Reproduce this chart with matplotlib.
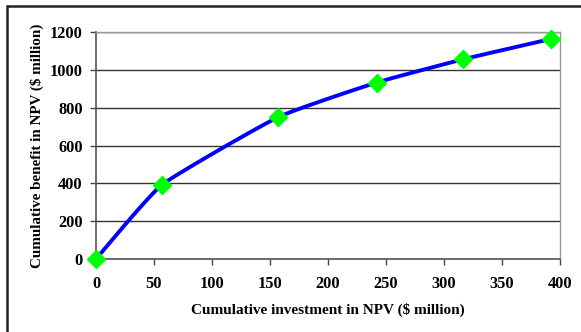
import numpy as np
import matplotlib
matplotlib.use("Agg")
import matplotlib.pyplot as plt
from matplotlib.patches import Rectangle

investment = [0, 57, 157, 242, 316, 392]
benefit = [0, 393, 750, 933, 1055, 1163]
x_ticks = [0, 50, 100, 150, 200, 250, 300, 350, 400]
y_ticks = [0, 200, 400, 600, 800, 1000, 1200]
x_label = "Cumulative investment in NPV ($ million)"
y_label = "Cumulative benefit in NPV ($ million)"


def smooth(xs, ys, k=1 / 14, n=40):
    xs = np.asarray(xs, float)
    ys = np.asarray(ys, float)
    px = np.concatenate([[xs[0]], xs, [xs[-1]]])
    py = np.concatenate([[ys[0]], ys, [ys[-1]]])
    outx, outy = [], []
    for i in range(1, len(px) - 2):
        t = np.linspace(0, 1, n)
        b1x = px[i] + (px[i + 1] - px[i - 1]) * k
        b1y = py[i] + (py[i + 1] - py[i - 1]) * k
        b2x = px[i + 1] - (px[i + 2] - px[i]) * k
        b2y = py[i + 1] - (py[i + 2] - py[i]) * k
        bx = ((1 - t) ** 3 * px[i] + 3 * (1 - t) ** 2 * t * b1x
              + 3 * (1 - t) * t ** 2 * b2x + t ** 3 * px[i + 1])
        by = ((1 - t) ** 3 * py[i] + 3 * (1 - t) ** 2 * t * b1y
              + 3 * (1 - t) * t ** 2 * b2y + t ** 3 * py[i + 1])
        outx.extend(bx)
        outy.extend(by)
    return np.array(outx), np.array(outy)


plt.rcParams['font.family'] = ['Liberation Serif', 'DejaVu Serif']
plt.rcParams['font.weight'] = 'bold'

fig = plt.figure(figsize=(5.81, 3.32), dpi=100)
fig.patches.append(Rectangle((7 / 581, -0.1), (581 - 6.5) / 581, 1 - 6 / 332 + 0.1,
                             transform=fig.transFigure, fill=False,
                             edgecolor='#222222', linewidth=1.8))

ax = fig.add_axes([96 / 581, 1 - 259 / 332, 464 / 581, 227 / 332])
ax.set_xlim(0, 400)
ax.set_ylim(0, 1200)
ax.set_xticks(x_ticks)
ax.set_yticks(y_ticks)
ax.grid(axis='y', color='#333333', linewidth=1.0)
ax.set_axisbelow(True)
for s in ['top', 'right']:
    ax.spines[s].set_color('#999999')
    ax.spines[s].set_linewidth(1.0)
for s in ['left', 'bottom']:
    ax.spines[s].set_color('#555555')
    ax.spines[s].set_linewidth(1.2)
ax.tick_params(axis='both', direction='out', length=4, width=1, color='#444444',
               labelsize=11.8)
ax.tick_params(axis='x', pad=8.5)
ax.tick_params(axis='y', pad=5.5)
for lab in ax.get_xticklabels() + ax.get_yticklabels():
    lab.set_fontweight('bold')

sx, sy = smooth(investment, benefit)
ax.plot(sx, sy, color='#0000FF', linewidth=2.8, clip_on=False, zorder=3)
ax.plot(investment, benefit, linestyle='none', marker='D', markersize=9,
        color='#00FF00', markeredgecolor='#00FF00', clip_on=False, zorder=4)

ax.set_xlabel(x_label, fontsize=11, fontweight='bold', labelpad=7.5)
ax.set_ylabel(y_label, fontsize=10.9, fontweight='bold', labelpad=4.4)

fig.savefig("out.png", dpi=100)
